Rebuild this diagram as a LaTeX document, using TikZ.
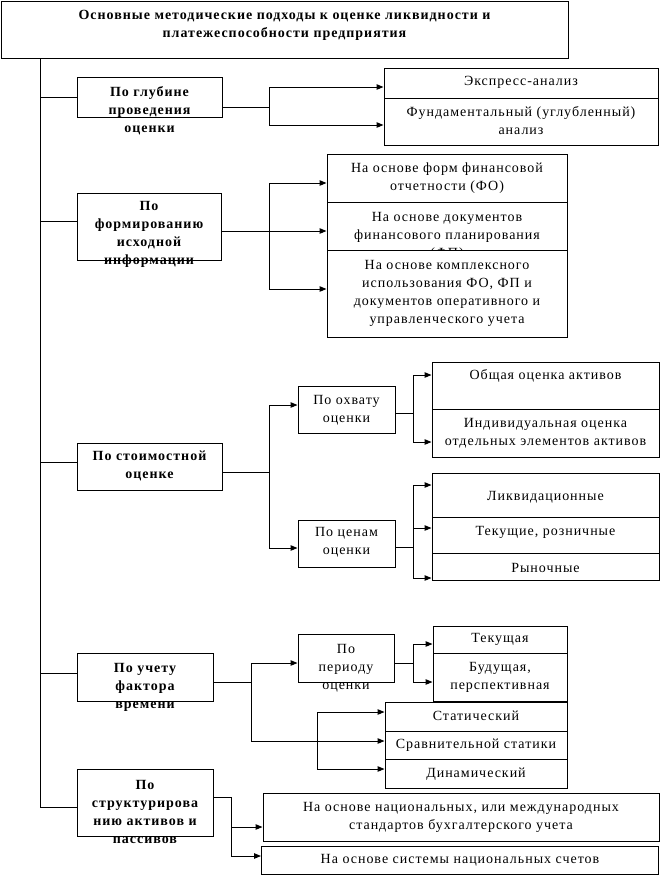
\documentclass[tikz,border=0pt]{standalone}
\usepackage{fontspec}
\setmainfont[LetterSpace=7]{Liberation Serif}
\usepackage{tikz}
\usetikzlibrary{arrows.meta,calc,positioning}
\definecolor{chInk}{HTML}{000000}
\tikzset{
 chart/.style={font=\fontsize{14}{18}\selectfont,line cap=butt,line join=miter,text=chInk},
 wh/.style 2 args={minimum width=#1pt,minimum height=#2pt},
 box/.style={rectangle,draw=chInk,fill=white,line width=1pt,inner sep=0pt},
 head/.style={font=\fontsize{14}{18}\selectfont\bfseries,align=center,inner sep=0pt},
 lbl/.style={align=center,inner sep=0pt},
 link/.style={draw=chInk,line width=1pt},
 arr/.style={link,-{Triangle[length=7pt,width=5.5pt]}}
}
\begin{document}
\begin{tikzpicture}[chart,x=1pt,y=-1pt]
 \useasboundingbox[fill=white] (0,0) rectangle (660,876);
 \node[box,wh={567}{57}] (T) at (284.5,29.5) {};
 \node[head] at (284.5,25.5) {Основные методические подходы к оценке ликвидности и\\платежеспособности предприятия};
 \coordinate (k) at (40,807);
 % first branch
 \node[box,wh={145}{40}] (g1) at (149.5,97) {};
 \node[head] at (149.5,110.5) {По глубине\\проведения\\оценки};
 \node[box,wh={274}{30}] (e1) at (521,83) {};
 \node[lbl] at (521,82) {Экспресс-анализ};
 \node[box,wh={274}{47}] (e2) at (521,121.5) {};
 \node[lbl] at (521,121) {Фундаментальный (углубленный)\\анализ};
 % second branch
 \node[box,wh={144}{67}] (g2) at (149,226.5) {};
 \node[head] at (149,234) {По\\формированию\\исходной\\информации};
 \node[box,wh={240}{48}] (f1) at (447,178) {};
 \node[lbl] at (447,178.5) {На основе форм финансовой\\отчетности (ФО)};
 \node[box,wh={240}{48}] (f2) at (447,226) {};
 \node[lbl] at (447,236) {На основе документов\\финансового планирования\\(ФП)};
 \node[box,wh={240}{87}] (f3) at (447,293.5) {};
 \node[lbl] at (447,293.5) {На основе комплексного\\использования ФО, ФП и\\документов оперативного и\\управленческого учета};
 % third branch
 \node[box,wh={145}{47}] (g3) at (149.5,466.5) {};
 \node[head] at (149.5,466) {По стоимостной\\оценке};
 \node[box,wh={97}{47}] (o) at (346.5,409.5) {};
 \node[lbl] at (346.5,410) {По охвату\\оценки};
 \node[box,wh={97}{47}] (p) at (346.5,543.5) {};
 \node[lbl] at (346.5,542.5) {По ценам\\оценки};
 \node[box,wh={227}{47}] (a1) at (545.5,385.5) {};
 \node[lbl] at (545.5,376) {Общая оценка активов};
 \node[box,wh={227}{48}] (a2) at (545.5,433) {};
 \node[lbl] at (545.5,433.5) {Индивидуальная оценка\\отдельных элементов активов};
 \node[box,wh={227}{44}] (l1) at (545.5,495) {};
 \node[lbl] at (545.5,497) {Ликвидационные};
 \node[box,wh={227}{36}] (l2) at (545.5,535) {};
 \node[lbl] at (545.5,532) {Текущие, розничные};
 \node[box,wh={227}{27}] (l3) at (545.5,566.5) {};
 \node[lbl] at (545.5,568) {Рыночные};
 % fourth branch
 \node[box,wh={136}{48}] (g4) at (145,677) {};
 \node[head] at (145,687) {По учету\\фактора\\времени};
 \node[box,wh={96}{48}] (q) at (346,658) {};
 \node[lbl] at (346,668) {По\\периоду\\оценки};
 \node[box,wh={134}{27}] (r1) at (500,639.5) {};
 \node[lbl] at (500,639) {Текущая};
 \node[box,wh={134}{48}] (r2) at (500,677) {};
 \node[lbl] at (500,677.5) {Будущая,\\перспективная};
 \node[box,wh={182}{29}] (s1) at (476,716.5) {};
 \node[lbl] at (476,716) {Статический};
 \node[box,wh={182}{28}] (s2) at (476,745) {};
 \node[lbl] at (476,745) {Сравнительной статики};
 \node[box,wh={182}{29}] (s3) at (476,773.5) {};
 \node[lbl] at (476,774) {Динамический};
 % fifth branch
 \node[box,wh={136}{67}] (g5) at (145,802.5) {};
 \node[head] at (145,811.5) {По\\структурирова\\нию активов и\\пассивов};
 \node[box,wh={396}{48}] (n1) at (461,817) {};
 \node[lbl] at (461,817.5) {На основе национальных, или международных\\стандартов бухгалтерского учета};
 \node[box,wh={397}{28}] (n2) at (460,860) {};
 \node[lbl] at (460,860) {На основе системы национальных счетов};
 % trunk
 \draw[link] (T.south -| k) -- (k) -- (k -| g5.west);
 \foreach \g/\s in {g1/0,g2/5.5,g3/4.5,g4/4}{
   \path ([yshift=\s pt]\g.west) coordinate (tap);
   \draw[link] (tap) -- (tap -| k);}
 % junctions
 \coordinate (j1) at (269,107);
 \coordinate (j2) at (269,231);
 \coordinate (j3) at (269,472);
 \coordinate (j4) at (413,413);
 \coordinate (j5) at (413,547);
 \coordinate (j6) at (251,682);
 \coordinate (j7) at (413,663);
 \coordinate (j8) at (317,741);
 \coordinate (j9) at (231,797);
 \draw[link] (g1.east |- j1) -- (j1);
 \draw[link] (g2.east |- j2) -- (j2);
 \draw[link] (g3.east |- j3) -- (j3);
 \draw[link] (o.east |- j4) -- (j4);
 \draw[link] (p.east |- j5) -- (j5);
 \draw[link] (g4.east |- j6) -- (j6);
 \draw[link] (q.east |- j7) -- (j7);
 \draw[link] (g5.east |- j9) -- (j9);
 \foreach \n/\s in {e1/-4,e2/-3.5}{\draw[arr] (j1) |- ([yshift=\s pt]\n.west);}
 \foreach \n/\s in {f1/-5,f2/-5,f3/4.5}{\draw[arr] (j2) |- ([yshift=\s pt]\n.west);}
 \foreach \n/\s in {o/4.5,p/-4.5}{\draw[arr] (j3) |- ([yshift=\s pt]\n.west);}
 \foreach \n/\s in {a1/10.5,a2/-9}{\draw[arr] (j4) |- ([yshift=\s pt]\n.west);}
 \foreach \n/\s in {l1/10,l2/7,l3/-11.5}{\draw[arr] (j5) |- ([yshift=\s pt]\n.west);}
 \foreach \n/\s in {q/-5,s2/4}{\draw[arr] (j6) |- ([yshift=\s pt]\n.west);}
 \foreach \n/\s in {r1/-4.5,r2/-5}{\draw[arr] (j7) |- ([yshift=\s pt]\n.west);}
 \foreach \n/\s in {s1/4.5,s3/4.5}{\draw[arr] (j8) |- ([yshift=\s pt]\n.west);}
 \foreach \n/\s in {n1/-10,n2/4}{\draw[arr] (j9) |- ([yshift=\s pt]\n.west);}
\end{tikzpicture}
\end{document}
